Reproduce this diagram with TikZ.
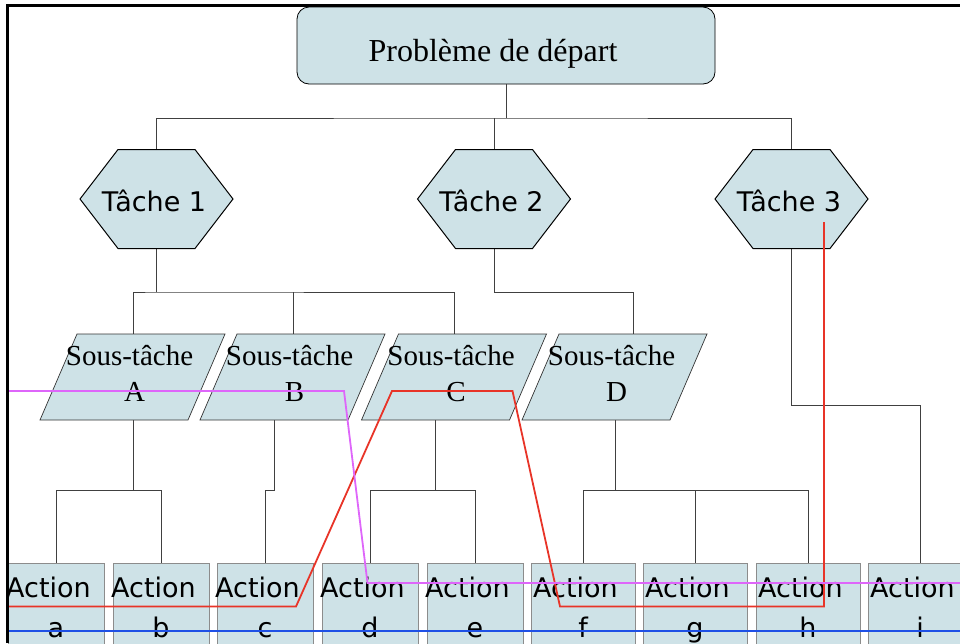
\documentclass[tikz,border=0pt]{standalone}
\usepackage{fontspec}
\setmainfont{Liberation Serif}
\newfontfamily\comicf{DejaVu Sans}
\definecolor{boxc}{RGB}{206,226,231}
\definecolor{magc}{RGB}{222,102,250}
\definecolor{redc}{RGB}{232,52,40}
\definecolor{bluec}{RGB}{30,80,230}
\tikzset{
  conn/.style={draw=black!75, line width=0.75pt},
  topbox/.style={draw=black, fill=boxc, rounded corners=12pt, line width=0.8pt, minimum width=418pt, minimum height=77pt, inner sep=0pt},
  hexbox/.style={draw=black, fill=boxc, line width=1pt, line join=miter},
  parbox/.style={draw=black!80, fill=boxc, line width=0.7pt},
  actbox/.style={draw=black!45, fill=boxc, line width=0.9pt, minimum height=100pt, inner sep=0pt},
  serift/.style={font=\fontsize{29}{34}\selectfont, inner sep=0pt, anchor=base},
  comict/.style={font=\comicf\fontsize{27}{32}\selectfont, inner sep=0pt, anchor=base},
  track/.style={line width=1.8pt, line join=miter}
}
\begin{document}
\begin{tikzpicture}[x=1pt,y=-1pt]
\useasboundingbox (0,0) rectangle (960,643);
\begin{scope}
\clip (0,0) rectangle (960,643);

% coordinates of the shapes
\coordinate (j0) at (507,118);
\foreach \n/\cx in {t1/156.5, t2/494, t3/791.5}{
  \coordinate (\n n) at (\cx,149.5);
  \coordinate (\n s) at (\cx,248.5);
}
\coordinate (sAn) at (133,334);   \coordinate (sAs) at (133,420);
\coordinate (sBn) at (293,334);   \coordinate (sBs) at (274,420);
\coordinate (sCn) at (454.5,334); \coordinate (sCs) at (435,420);
\coordinate (sDn) at (633,334);   \coordinate (sDs) at (615,420);

% action boxes
\foreach \n/\l/\r/\lab in {aa/8/104/a, ab/113/209/b, ac/217/313/c, ad/322/418/d, ae/427/523/e, af/531/635/f, ag/643/747/g, ah/756/860/h, ai/868/972/i}{
  \pgfmathsetmacro\cx{(\l+\r)/2}
  \pgfmathsetmacro\w{\r-\l}
  \node[actbox, minimum width=\w pt] (\n) at (\cx,613) {};
  \node[comict] (\n-t) at ({\cx-7.5},597) {Action};
  \node[comict] (\n-l) at (\cx,637) {\lab};
}

% connectors
\node[topbox] (top) at (506,45.5) {};
\draw[conn] (top.south) -- (top.south |- j0);
\draw[conn] (t1n) |- (j0) -| (t3n);
\draw[conn] (t2n) -- (t2n |- j0);

\draw[conn] (t1s) -- ++(0,43.5) coordinate (j1);
\draw[conn] (sAn) |- (j1) -| (sCn);
\draw[conn] (sBn) -- (sBn |- j1);
\draw[conn] (t2s) -- ++(0,43.5) -| (sDn);
\draw[conn] (t3s) -- ++(0,156.5) -| (ai.north);

\draw[conn] (sAs) -- ++(0,70) coordinate (jA);
\draw[conn] (aa.north) |- (jA) -| (ab.north);
\draw[conn] (sBs) -- ++(0,70) -| (ac.north);
\draw[conn] (sCs) -- ++(0,70) coordinate (jC);
\draw[conn] (ad.north) |- (jC) -| (ae.north);
\draw[conn] (sDs) -- ++(0,70) coordinate (jD);
\draw[conn] (af.north) |- (jD) -| (ah.north);
\draw[conn] (ag.north) -- (ag.north |- jD);

% top node text
\node[font=\fontsize{32}{38}\selectfont, inner sep=0pt, anchor=base] (toptxt) at (493,61) {Problème de départ};

% hexagons
\foreach \n/\cx/\lab in {t1/156.5/Tâche 1, t2/494/Tâche 2, t3/791.5/Tâche 3}{
  \path[hexbox] ({\cx-76.5},199) -- ({\cx-38.5},149.5) -- ({\cx+38.5},149.5) -- ({\cx+76.5},199) -- ({\cx+38.5},248.5) -- ({\cx-38.5},248.5) -- cycle;
  \node[comict] (\n-t) at ({\cx-2.5},211) {\lab};
}

% parallelograms
\foreach \n/\cx/\lab in {sA/132.5/A, sB/292.5/B, sC/454/C, sD/614.5/D}{
  \path[parbox] ({\cx-55.5},334) -- ({\cx+92.5},334) -- ({\cx+55.5},420) -- ({\cx-92.5},420) -- cycle;
  \node[serift] (\n-t) at ({\cx-3},365) {Sous-tâche};
  \node[serift] (\n-l) at ({\cx+2},401) {\lab};
}

% coloured tracks
\coordinate (r0) at (8,606.5);   \coordinate (r1) at (296,606.5);
\coordinate (r2) at (392,391);   \coordinate (r3) at (512.5,391);
\coordinate (r4) at (560,606.5); \coordinate (r5) at (824,606.5);
\coordinate (r6) at (824,222);
\draw[track, redc] (r0) -- (r1) -- (r2) -- (r3) -- (r4) -- (r5) -- (r6);
\coordinate (m0) at (8,391);   \coordinate (m1) at (344,391);
\coordinate (m2) at (367.5,583); \coordinate (m3) at (960,583);
\draw[track, magc] (m0) -- (m1) -- (m2) -- (m3);
\coordinate (b0) at (8,631);   \coordinate (b1) at (960,631);
\draw[track, bluec] (b0) -- (b1);

% frame
\draw[line width=2.2pt] (7.5,643) -- (7.5,5.5) -- (960,5.5);
\end{scope}
\end{tikzpicture}
\end{document}
